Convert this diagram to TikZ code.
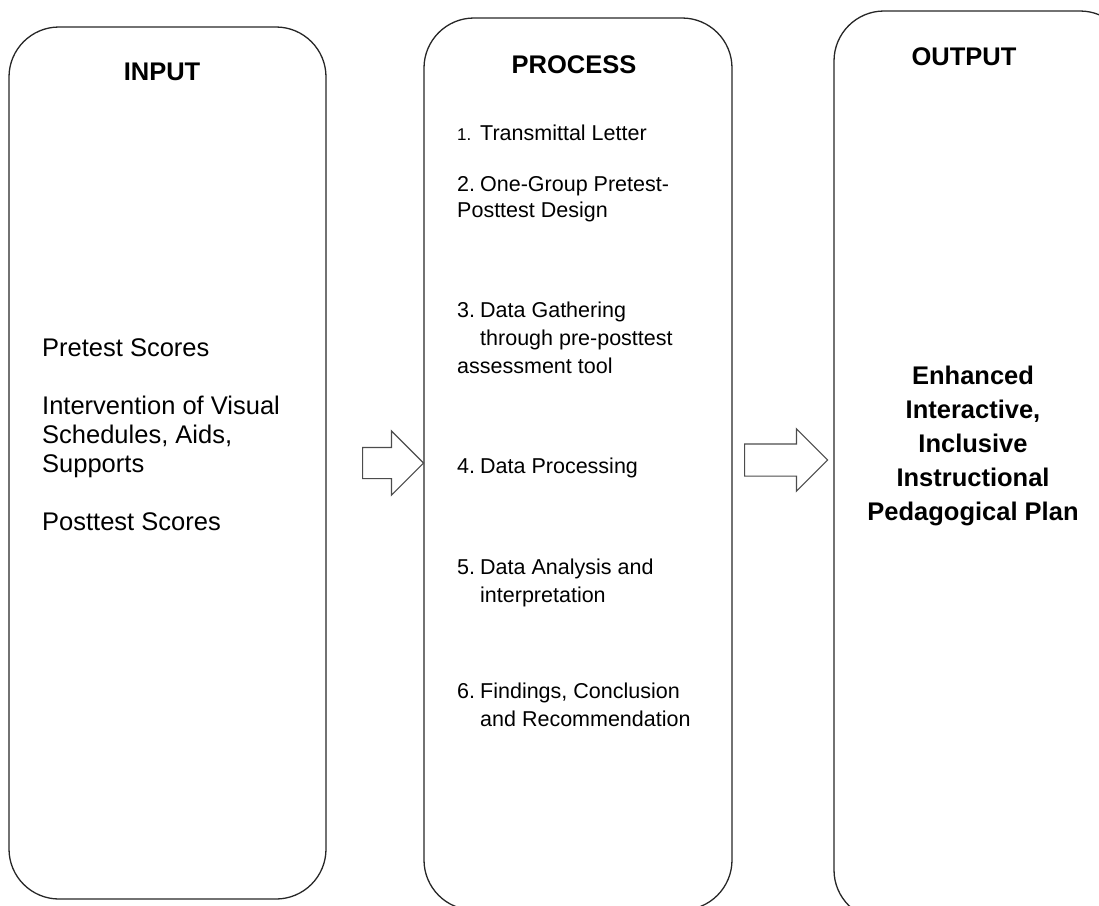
\documentclass[tikz,border=0pt]{standalone}
\usepackage{fontspec}
\setmainfont{Liberation Sans}
\usetikzlibrary{positioning, shapes.arrows}

\newcommand{\stepno}[1]{\makebox[23pt][l]{#1}}

\begin{document}
\begin{tikzpicture}[x=1pt, y=-1pt,
  column/.style={draw=black!85, line width=1.3pt, rounded corners=50pt, inner sep=0pt},
  head/.style={font=\fontsize{25.5}{29}\selectfont\bfseries, anchor=base, inner sep=0pt},
  intext/.style={font=\fontsize{25.5}{29}\selectfont, align=left, anchor=base west, inner sep=0pt},
  proctext/.style={font=\fontsize{21.5}{28}\selectfont, align=left, anchor=base west, inner sep=0pt},
  outtext/.style={font=\fontsize{25.5}{33.8}\selectfont\bfseries, align=center, anchor=base, inner sep=0pt},
  bigarrow/.style={single arrow, draw=black!70, line width=1.2pt, inner xsep=0pt, anchor=tail}]

  \useasboundingbox (0,0) rectangle (1099,905);
  \clip (0,0) rectangle (1099,905);

  % columns
  \node[column, minimum width=317pt, minimum height=872pt] (input)  at (167.5,463) {};
  \node[column, minimum width=308pt, minimum height=892pt] (process) at (578,464) {};
  \node[column, minimum width=296pt, minimum height=909pt] (output) at (982,465.5) {};

  \node[head] (inhead)   at (162,80) {INPUT};
  \node[head] (prochead) at (574,73) {PROCESS};
  \node[head] (outhead)  at (964,65) {OUTPUT};

  % input list (base = last line)
  \node[intext] (inlist) at (42,530)
    {Pretest Scores\\[29pt]
     Intervention of Visual\\Schedules, Aids,\\Supports\\[29pt]
     Posttest Scores};

  % process steps
  \node[proctext] (p1) at (457,140) {\stepno{\fontsize{17}{20}\selectfont 1.}Transmittal Letter};
  \node[proctext] (p2) at (457,217) {\stepno{2.}One-Group Pretest-\\[-2pt]Posttest Design};
  \node[proctext] (p3) at (457,373) {\stepno{3.}Data Gathering\\\hspace*{23pt}through pre-posttest\\assessment tool};
  \node[proctext] (p4) at (457,473) {\stepno{4.}Data Processing};
  \node[proctext] (p5) at (457,602) {\stepno{5.}Data Analysis and\\\hspace*{23pt}interpretation};
  \node[proctext] (p6) at (457,726) {\stepno{6.}Findings, Conclusion\\\hspace*{23pt}and Recommendation};

  % output
  \node[outtext] (plan) at (973,520)
    {Enhanced\\Interactive,\\Inclusive\\Instructional\\Pedagogical Plan};

  % block arrows
  \node[bigarrow, inner ysep=15pt, single arrow head extend=16.5pt, minimum height=61pt] (arr1) at (362,463) {};
  \node[bigarrow, inner ysep=15.5pt, single arrow head extend=15pt, minimum height=83pt] (arr2) at (744,460) {};
\end{tikzpicture}
\end{document}
